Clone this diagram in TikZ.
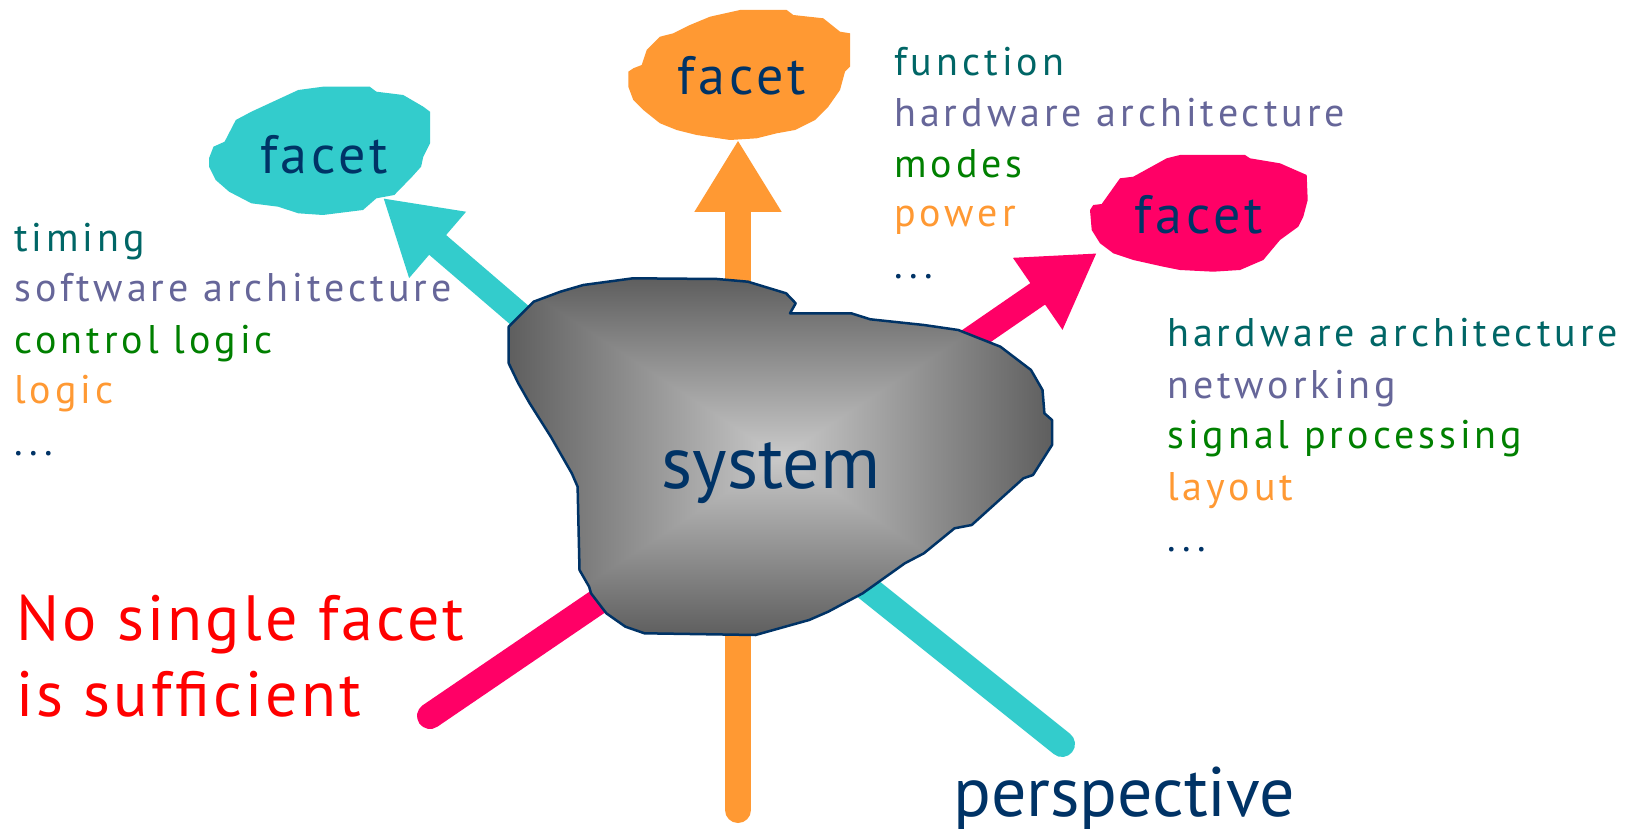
\documentclass[tikz,border=0pt]{standalone}
\usepackage{fontspec}
\setmainfont{PT Sans}
\newfontfamily\listfont[LetterSpace=10]{PT Sans}
\newfontfamily\facetfont[LetterSpace=7]{PT Sans}
\newfontfamily\sloganfont[LetterSpace=5]{PT Sans}
\newfontfamily\plainfont{PT Sans}
\usetikzlibrary{arrows.meta}

\definecolor{navyC}{HTML}{003366}
\definecolor{tealC}{HTML}{006666}
\definecolor{slateC}{HTML}{666699}
\definecolor{greenC}{HTML}{008000}
\definecolor{orangeC}{HTML}{FF9933}
\definecolor{cyanC}{HTML}{33CCCC}
\definecolor{magentaC}{HTML}{FF0066}
\definecolor{redC}{HTML}{FF0000}

% grey "box" gradient: light in the middle, darker towards the bounding box
% (the central 50bp square is what covers the shaded path)
\pgfdeclarefunctionalshading{boxshade}{\pgfpoint{-50bp}{-50bp}}{\pgfpoint{50bp}{50bp}}{}{
  abs exch abs 2 copy lt {exch} if pop 25 div dup 1 gt {pop 1} if
  0.42 mul 0.79 exch sub dup dup
}

\tikzset{
  listitem/.style={anchor=base west, inner sep=0pt, font=\listfont\fontsize{40}{48}\selectfont},
  facetlabel/.style={anchor=base, inner sep=0pt, text=navyC, font=\facetfont\fontsize{54}{60}\selectfont},
  stem/.style={line width=26pt, line cap=round},
  facetarrow/.style={line width=26pt, -{Triangle[length=72pt,width=82pt]}},
}

\begin{document}
\begin{tikzpicture}[x=1pt,y=-1pt]
\useasboundingbox[fill=white] (0,0) rectangle (1636,829);

% ---- end points of the arrows and stems (hidden under the system blob)
\coordinate (oS) at (738,330);  \coordinate (oT) at (738,140);
\coordinate (cS) at (560,350);  \coordinate (cT) at (383,198);
\coordinate (mS) at (930,368);  \coordinate (mT) at (1097,253);
\coordinate (oB0) at (738,600); \coordinate (oB) at (738,810);
\coordinate (mB0) at (640,573); \coordinate (mB) at (430,716);
\coordinate (cB0) at (832,560); \coordinate (cB) at (1062,744);

% ---- perspective stems
\draw[stem, orangeC]  (oB0) -- (oB);
\draw[stem, magentaC] (mB0) -- (mB);
\draw[stem, cyanC]    (cB0) -- (cB);

% ---- arrows towards the facets
\draw[facetarrow, orangeC]  (oS) -- (oT);
\draw[facetarrow, cyanC]    (cS) -- (cT);
\draw[facetarrow, magentaC] (mS) -- (mT);

% ---- the system
\path[draw=navyC, line width=2.5pt, line join=round, shading=boxshade]
  (508.7,326.7) -- (533.6,301.7) -- (560.4,291.7) -- (583.3,285) -- (633,278.3)
  -- (717.2,279) -- (747.9,281.7) -- (786.1,293.3) -- (795.7,303.3) -- (790,313.3)
  -- (851.2,313.3) -- (870.3,319.3) -- (923.9,325) -- (958.3,330) -- (1000.4,346.7)
  -- (1031,370) -- (1042.5,390) -- (1044.4,413.3) -- (1052,420) -- (1052,445)
  -- (1042.5,460) -- (1033,475) -- (1023.4,478.3) -- (971.7,525) -- (954.5,528.3)
  -- (923.9,553.3) -- (904.8,563.3) -- (862.7,593.3) -- (828.2,611.7) -- (809.1,620)
  -- (755.5,635) -- (644.5,633.3) -- (625.4,626.7) -- (606.3,613.3) -- (591,593.3)
  -- (589.1,586.7) -- (579.5,570) -- (577.6,486.7) -- (571.8,473.3) -- (550.8,436.7)
  -- (529.7,403.3) -- (518.3,383.3) -- (508.7,363.3) -- cycle;
\node[anchor=base, inner sep=0pt, text=navyC, font=\plainfont\fontsize{74}{80}\selectfont]
  (system) at (770.8,488.3) {system};

% ---- facets
\fill[cyanC] (209,158.3) -- (213.5,146.7) -- (224.6,141.7) -- (235.8,120) -- (251.4,111.7)
  -- (298.3,90) -- (322.9,86.7) -- (369.7,86.7) -- (376.4,91.7) -- (403.2,95)
  -- (423.3,106.7) -- (430,111.7) -- (430,143.3) -- (423.3,156.7) -- (421.1,166.7)
  -- (412.1,176.7) -- (394.3,195) -- (376.4,198.3) -- (363,210) -- (322.9,215)
  -- (298.3,213.3) -- (278.2,206.7) -- (251.4,203.3) -- (229.1,191.7) -- (215.7,180)
  -- (209,166.7) -- cycle;
\node[facetlabel] (facetL) at (324,173.3) {facet};

\fill[orangeC] (628.3,71.7) -- (633.3,68.3) -- (641.7,65) -- (646.7,50) -- (660,36.7)
  -- (673.3,33.3) -- (690,25) -- (710,16.7) -- (740,10) -- (786.7,10) -- (793.3,15)
  -- (823.3,18.3) -- (840,31.7) -- (850,33.3) -- (850,66.7) -- (845,71.7) -- (840,90)
  -- (828.3,106.7) -- (815,120) -- (795,130) -- (776.7,133.3) -- (756.7,138.3)
  -- (730,140) -- (696.7,135) -- (676.7,130) -- (660,123.3) -- (643.3,110)
  -- (633.3,100) -- (628.3,86.7) -- cycle;
\node[facetlabel] (facetT) at (741.7,95) {facet};

\fill[magentaC] (1090,210) -- (1093.3,205) -- (1101.7,204) -- (1120,178.3) -- (1133.3,176.7)
  -- (1166.7,158.3) -- (1180,155) -- (1245,155) -- (1250,158.3) -- (1280,163.3)
  -- (1306.7,175) -- (1307.7,200) -- (1303.3,216.7) -- (1298.3,226.7) -- (1280,240)
  -- (1263.3,260) -- (1240,270) -- (1213.3,271.7) -- (1180,270) -- (1163.3,266.7)
  -- (1133.3,260) -- (1113.3,253.3) -- (1100,243.3) -- (1091.7,230) -- cycle;
\node[facetlabel] (facetR) at (1198.9,234) {facet};

% ---- aspects of the left facet
\node[listitem, text=tealC]   (l1) at (14,251.7) {timing};
\node[listitem, text=slateC]  (l2) at (14,301.7) {software architecture};
\node[listitem, text=greenC]  (l3) at (14,353.3) {control logic};
\node[listitem, text=orangeC] (l4) at (14,403.3) {logic};
\node[listitem, text=navyC]   (l5) at (14,455)   {...};

% ---- aspects of the top facet
\node[listitem, text=tealC]   (t1) at (894,76)    {function};
\node[listitem, text=slateC]  (t2) at (894,126.7) {hardware architecture};
\node[listitem, text=greenC]  (t3) at (894,177.3) {modes};
\node[listitem, text=orangeC] (t4) at (894,226.7) {power};
\node[listitem, text=navyC]   (t5) at (894,279)   {...};

% ---- aspects of the right facet
\node[listitem, text=tealC]   (r1) at (1167,346.7) {hardware architecture};
\node[listitem, text=slateC]  (r2) at (1167,398.3) {networking};
\node[listitem, text=greenC]  (r3) at (1167,448.3) {signal processing};
\node[listitem, text=orangeC] (r4) at (1167,500)   {layout};
\node[listitem, text=navyC]   (r5) at (1167,551)   {...};

% ---- slogan and axis label
\node[anchor=base west, inner sep=0pt, text=redC, font=\sloganfont\fontsize{64}{70}\selectfont]
  (slogan1) at (16,640) {No single facet};
\node[anchor=base west, inner sep=0pt, text=redC, font=\sloganfont\fontsize{64}{70}\selectfont]
  (slogan2) at (16,716.7) {is sufficient};
\node[anchor=base west, inner sep=0pt, text=navyC, font=\plainfont\fontsize{70}{76}\selectfont]
  (persp) at (953,816.7) {perspective};
\end{tikzpicture}
\end{document}
